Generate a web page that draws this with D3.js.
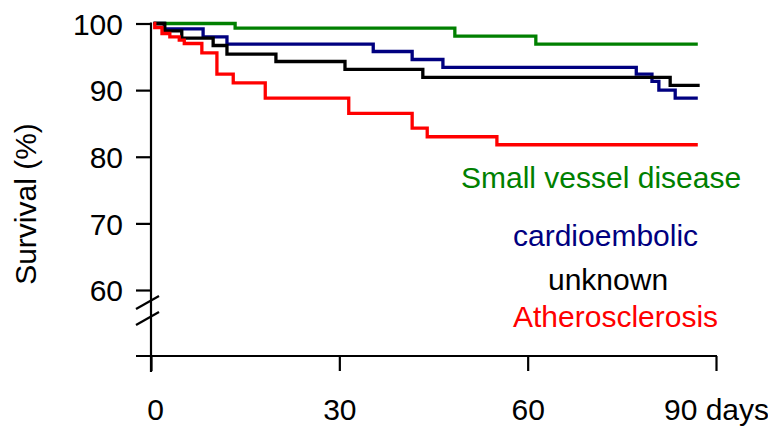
<!DOCTYPE html>
<html><head><meta charset="utf-8">
<script src="https://cdn.jsdelivr.net/npm/d3@7"></script>
<style>
html,body{margin:0;padding:0;background:#fff;}
text{font-family:"Liberation Sans",Arial,sans-serif;}
</style></head>
<body>
<svg id="chart" width="768" height="429"></svg>
<script>
// ---- data ----
const seriesNames = ["Small vessel disease", "cardioembolic", "unknown", "Atherosclerosis"];
const seriesColors = ["#008000", "#000080", "#000000", "#ff0000"];

const smallDays = [0.4, 13.4, 48.4, 61.3, 87.1];
const smallSurv = [100, 99.3, 98.1, 96.9, 96.9];

const cardioDays = [0.4, 2.1, 8.3, 12.1, 35.4, 41.6, 46.5, 77.3, 79.8, 80.9, 83.5, 87.1];
const cardioSurv = [100, 99.2, 98.0, 96.9, 95.8, 94.6, 93.4, 92.4, 91.3, 90.0, 88.8, 88.8];

const unknownDays = [0.4, 2.2, 4.9, 9.9, 12.1, 19.9, 30.9, 43.3, 82.7, 87.4];
const unknownSurv = [100, 98.9, 97.8, 96.7, 95.4, 94.3, 93.1, 91.9, 90.7, 90.7];

const atheroDays = [0.4, 0.6, 1.75, 3.0, 4.5, 5.3, 8.1, 10.5, 13.1, 18.2, 31.5, 41.6, 44.0, 55.1, 87.1];
const atheroSurv = [100, 99.4, 98.5, 98.0, 97.5, 97.0, 95.6, 92.4, 91.1, 88.8, 86.5, 84.3, 83.0, 81.8, 81.8];

const xTicks = [0, 30, 60, 90];
const xTickLabels = ["0", "30", "60", "90 days"];
const yTicks = [60, 70, 80, 90, 100];
const yLabel = "Survival (%)";

// ---- drawing ----
const svg = d3.select("#chart");
const x = d3.scaleLinear().domain([0, 90]).range([151, 716]);
const y = d3.scaleLinear().domain([60, 100]).range([290, 23.5]);
const axisY0 = 356;   // x-axis line position (below the break)
const fs = 30;

const series = [
  {days: smallDays, surv: smallSurv},
  {days: cardioDays, surv: cardioSurv},
  {days: unknownDays, surv: unknownSurv},
  {days: atheroDays, surv: atheroSurv}
];

// y axis
const yAxis = d3.axisLeft(y).tickValues(yTicks).tickSize(15).tickSizeOuter(0).tickFormat(d3.format("d"));
const gy = svg.append("g").attr("transform", "translate(151,0)").call(yAxis);
gy.select(".domain").remove();
gy.selectAll(".tick line").attr("stroke", "#000").attr("stroke-width", 2.2);
gy.selectAll(".tick text").attr("x", -28).attr("dy", "0.36em")
  .style("font-size", fs + "px").attr("fill", "#000")
  .style("font-family", "'Liberation Sans', Arial, sans-serif");
// continuous vertical axis line
svg.append("line").attr("x1", 151).attr("x2", 151).attr("y1", y(100) - 1).attr("y2", 372)
  .attr("stroke", "#000").attr("stroke-width", 2.2);

// x axis
const xAxis = d3.axisBottom(x).tickValues(xTicks).tickSize(15).tickSizeOuter(0)
  .tickFormat((d, i) => xTickLabels[i]);
const gx = svg.append("g").attr("transform", `translate(0,${axisY0})`).call(xAxis);
gx.select(".domain").remove();
gx.selectAll(".tick line").attr("stroke", "#000").attr("stroke-width", 2.2);
gx.selectAll(".tick text").attr("y", 64).attr("dy", 0)
  .style("font-size", fs + "px").attr("fill", "#000")
  .style("font-family", "'Liberation Sans', Arial, sans-serif");
gx.selectAll(".tick text").filter((d, i) => i === 0).attr("x", 4);
svg.append("line").attr("x1", 136).attr("x2", x(90) + 1).attr("y1", axisY0).attr("y2", axisY0)
  .attr("stroke", "#000").attr("stroke-width", 2.2);

// axis break slashes
[0, 16].forEach(off => {
  svg.append("line").attr("x1", 136).attr("y1", 309 + off).attr("x2", 159).attr("y2", 296 + off)
    .attr("stroke", "#000").attr("stroke-width", 2.2);
});

// y label
svg.append("text").attr("transform", "translate(36,204) rotate(-90)")
  .attr("text-anchor", "middle").style("font-size", fs + "px").attr("fill", "#000").text(yLabel);

// curves
const line = d3.line().curve(d3.curveStepAfter).x(d => x(d[0])).y(d => y(d[1]));
series.forEach((s, i) => {
  const pts = s.days.map((d, j) => [d, s.surv[j]]);
  svg.append("path").datum(pts).attr("d", line).attr("fill", "none")
    .attr("stroke", seriesColors[i]).attr("stroke-width", 3.3).attr("stroke-linejoin", "miter");
});

// labels
const labelPos = [[461, 188], [513, 246], [548, 290], [513, 327]];
seriesNames.forEach((n, i) => {
  svg.append("text").attr("x", labelPos[i][0]).attr("y", labelPos[i][1])
    .style("font-size", fs + "px").attr("fill", seriesColors[i]).text(n);
});
</script>
</body></html>
